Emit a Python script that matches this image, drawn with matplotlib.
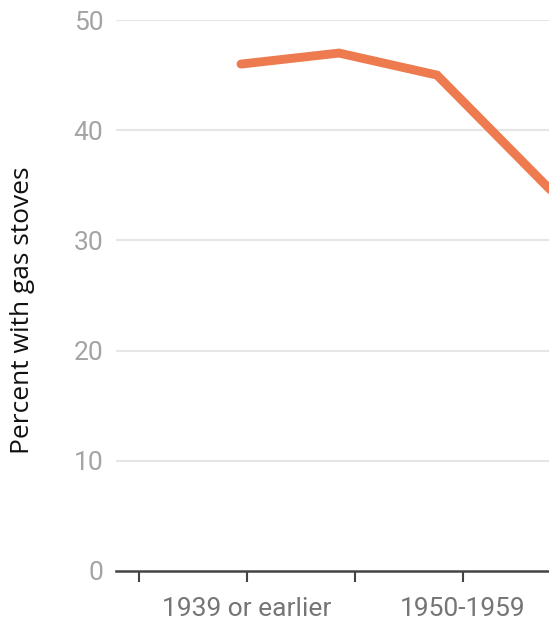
import matplotlib
matplotlib.use("Agg")
import matplotlib.pyplot as plt
import numpy as np

# Data
categories = ["1939 or earlier", "1940-1949", "1950-1959", "1960-1969", "1970-1979"]
values = [46, 47, 45, 36, 27]
tick_labels = ["", "1939 or earlier", "", "1950-1959"]
y_ticks = [0, 10, 20, 30, 40, 50]

W, H = 549, 623
fig = plt.figure(figsize=(W / 100, H / 100), dpi=100)
fig.patch.set_facecolor("white")

ax_left, ax_right = 116, 549
ax_top, ax_bottom = 20, 571
ax = fig.add_axes([ax_left / W, (H - ax_bottom) / H, (ax_right - ax_left) / W, (ax_bottom - ax_top) / H])

# Layout mapping (pixel layout of line points vs tick marks)
pt0, pt_step = 241.0, 98.0
tick0, tick_step = 139.0, 108.0
x = np.arange(len(values))
ax.plot(x, values, color="#EE7A4F", lw=6.4, solid_capstyle="round", solid_joinstyle="miter", zorder=3)

tick_pos = [(tick0 - pt0) / pt_step + k * tick_step / pt_step for k in range(len(tick_labels))]
ax.set_xticks(tick_pos)
ax.set_xticklabels(tick_labels, fontsize=19, color="#757575", family="Roboto")
ax.tick_params(axis="x", length=8, width=1.5, color="#444444", pad=11)

ax.set_yticks(y_ticks)
ax.set_yticklabels([str(v) for v in y_ticks], fontsize=19, color="#a4a4a4", family="Roboto")
ax.tick_params(axis="y", length=0, pad=9)

ax.set_xlim((ax_left - pt0) / pt_step, (ax_right - pt0) / pt_step)
ax.set_ylim(0, 50)

for v in y_ticks[1:]:
    ax.axhline(v, color="#e6e6e6", lw=1.5, zorder=1)

for s in ["top", "right", "left"]:
    ax.spines[s].set_visible(False)
ax.spines["bottom"].set_color("#444444")
ax.spines["bottom"].set_linewidth(1.8)
ax.spines["bottom"].set_zorder(4)

fig.text(23 / W, 1 - 310 / H, "Percent with gas stoves", rotation=90, ha="center", va="center",
         fontsize=19, color="#111111", family="Open Sans")

fig.savefig("out.png", dpi=100, facecolor="white")
